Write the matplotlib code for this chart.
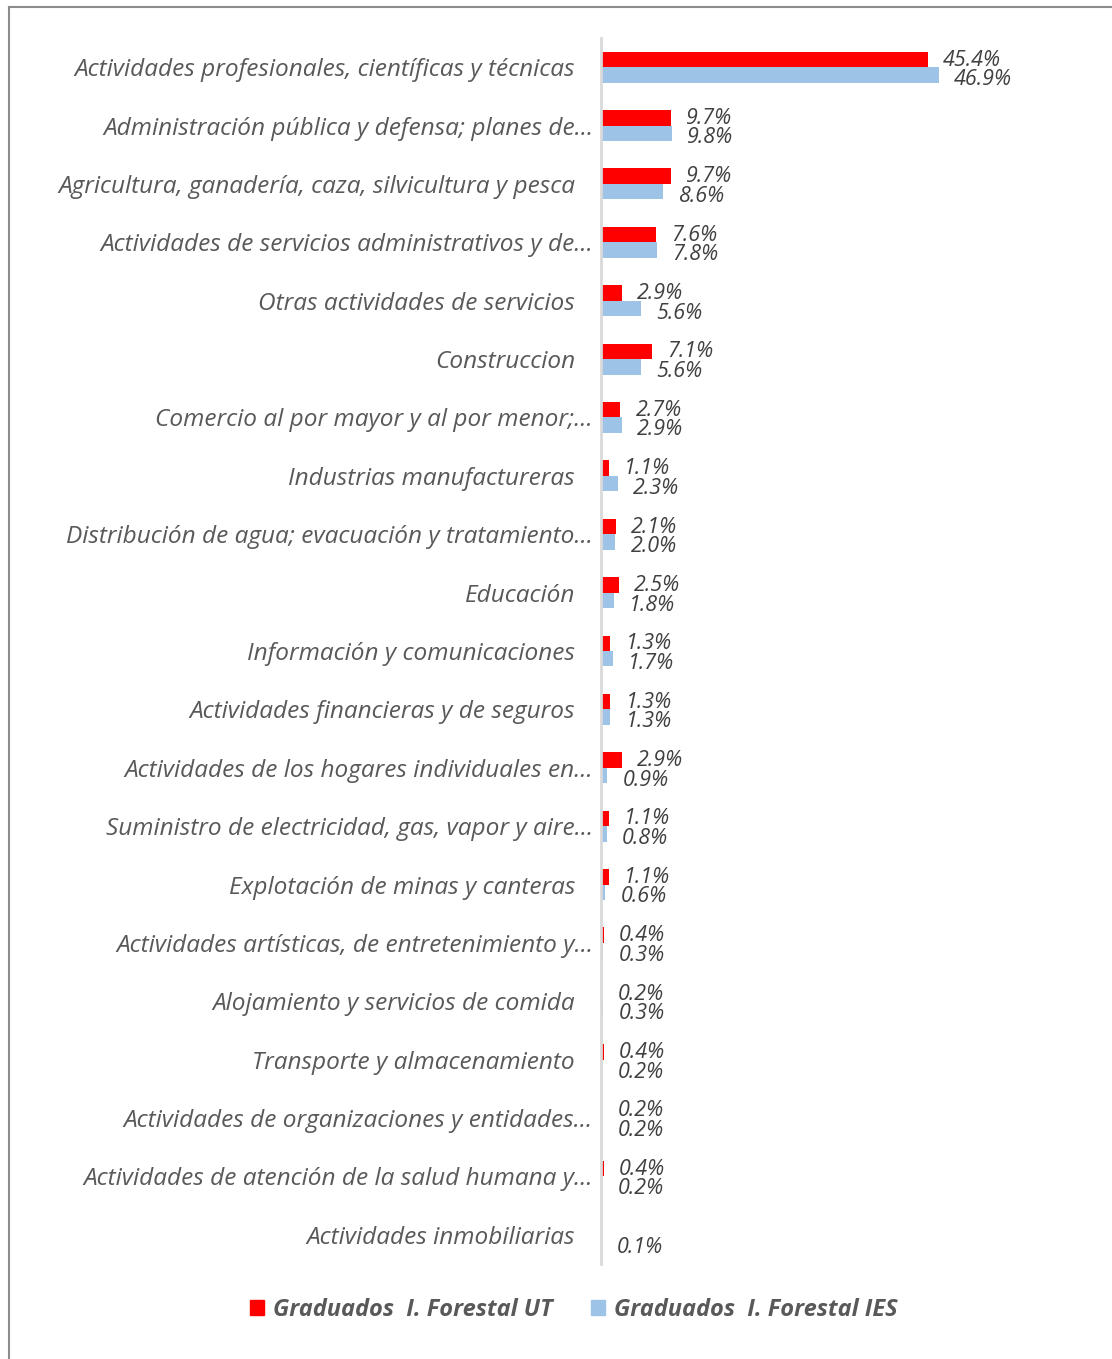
import numpy as np
import matplotlib
matplotlib.use("Agg")
import matplotlib.pyplot as plt
from matplotlib.patches import Rectangle
from matplotlib.lines import Line2D

# sectors, top to bottom as in the chart
categories = [
    "Actividades profesionales, científicas y técnicas",
    "Administración pública y defensa; planes de…",
    "Agricultura, ganadería, caza, silvicultura y pesca",
    "Actividades de servicios administrativos y de…",
    "Otras actividades de servicios",
    "Construccion",
    "Comercio al por mayor y al por menor;…",
    "Industrias manufactureras",
    "Distribución de agua; evacuación y tratamiento…",
    "Educación",
    "Información y comunicaciones",
    "Actividades financieras y de seguros",
    "Actividades de los hogares individuales en…",
    "Suministro de electricidad, gas, vapor y aire…",
    "Explotación de minas y canteras",
    "Actividades artísticas, de entretenimiento y…",
    "Alojamiento y servicios de comida",
    "Transporte y almacenamiento",
    "Actividades de organizaciones y entidades…",
    "Actividades de atención de la salud humana y…",
    "Actividades inmobiliarias",
]
ut_vals = [45.4, 9.7, 9.7, 7.6, 2.9, 7.1, 2.7, 1.1, 2.1, 2.5, 1.3,
           1.3, 2.9, 1.1, 1.1, 0.4, 0.2, 0.4, 0.2, 0.4, None]
ies_vals = [46.9, 9.8, 8.6, 7.8, 5.6, 5.6, 2.9, 2.3, 2.0, 1.8, 1.7,
            1.3, 0.9, 0.8, 0.6, 0.3, 0.3, 0.2, 0.2, 0.2, 0.1]
series_names = ["Graduados  I. Forestal UT", "Graduados  I. Forestal IES"]

RED = "#ff0000"
BLUE = "#9dc3e6"
LABEL_GRAY = "#595959"
VALUE_GRAY = "#404040"
FONT = "Open Sans"

W, H = 1112, 1359
fig = plt.figure(figsize=(W / 100, H / 100), dpi=100)

# axes placed in pixel terms
x0, x1 = 601, 1090
y_top, y_bot = 38, 1264
ax = fig.add_axes([x0 / W, 1 - y_bot / H, (x1 - x0) / W, (y_bot - y_top) / H])

n = len(categories)
y = np.arange(n)
bh = 0.265
ut_plot = [v if v is not None else 0 for v in ut_vals]
ax.barh(y - bh / 2, ut_plot, height=bh, color=RED, linewidth=0,
        label=series_names[0])
ax.barh(y + bh / 2, ies_vals, height=bh, color=BLUE, linewidth=0,
        label=series_names[1])

ax.set_xlim(0, (x1 - x0) / 7.2)
ax.set_ylim(n - 0.5, -0.5)

for s in ["top", "right", "bottom"]:
    ax.spines[s].set_visible(False)
ax.spines["left"].set_color("#d9d9d9")
ax.spines["left"].set_linewidth(2)
ax.set_xticks([])
ax.set_yticks([])

# value labels
off = 2.1
for i in range(n):
    if ut_vals[i] is not None:
        ax.text(ut_plot[i] + off, y[i] - bh / 2 + 0.01, f"{ut_vals[i]:.1f}%",
                ha="left", va="center", fontsize=15.5, style="italic",
                color=VALUE_GRAY, family=FONT)
    ax.text(ies_vals[i] + off, y[i] + bh / 2 + 0.08, f"{ies_vals[i]:.1f}%",
            ha="left", va="center", fontsize=15.5, style="italic",
            color=VALUE_GRAY, family=FONT)

# category labels (truncated ones reach a bit further right, like Excel)
for i, c in enumerate(categories):
    pad = 8 if c.endswith("…") else 26
    ax.annotate(c, xy=(0, y[i]), xycoords=("axes fraction", "data"),
                xytext=(-pad, -3), textcoords="offset pixels",
                ha="right", va="center", fontsize=17.6, style="italic",
                color=LABEL_GRAY, family=FONT)

# legend
handles = [Rectangle((0, 0), 1, 1, color=RED), Rectangle((0, 0), 1, 1, color=BLUE)]
leg = fig.legend(handles, series_names, loc="center", ncol=2,
                 bbox_to_anchor=(574 / W, 1 - 1310 / H), frameon=False,
                 handlelength=0.6, handleheight=0.6, handletextpad=0.4,
                 columnspacing=1.6,
                 prop=dict(family=FONT, style="italic", weight="bold", size=17))
for t in leg.get_texts():
    t.set_color(LABEL_GRAY)

# outer border (cut off at right and bottom)
bx, by = 8.5 / W, 1 - 7 / H
fig.add_artist(Line2D([bx, bx], [0, by], transform=fig.transFigure,
                      color="#8c8c8c", lw=1.5))
fig.add_artist(Line2D([bx, 1], [by, by], transform=fig.transFigure,
                      color="#8c8c8c", lw=1.5))

fig.savefig("out.png", dpi=100, facecolor="white")
